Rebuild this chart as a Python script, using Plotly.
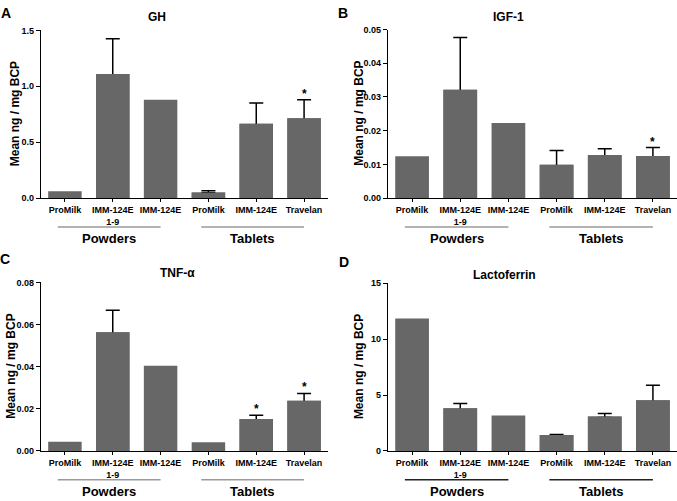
import plotly.graph_objects as go

# ---------------- data ----------------
categories = ["ProMilk", "IMM-124E<br>1-9", "IMM-124E", "ProMilk", "IMM-124E", "Travelan"]
groups = ["Powders", "Powders", "Powders", "Tablets", "Tablets", "Tablets"]

gh_mean = [0.06, 1.11, 0.88, 0.05, 0.665, 0.715]
gh_upper = [None, 1.425, None, 0.065, 0.852, 0.88]
gh_star = [False, False, False, False, False, True]

igf_mean = [0.0124, 0.0321, 0.0223, 0.0099, 0.0128, 0.0125]
igf_upper = [None, 0.0476, None, 0.0141, 0.0146, 0.0150]
igf_star = [False, False, False, False, False, True]

tnf_mean = [0.0044, 0.0563, 0.0404, 0.0041, 0.0151, 0.0238]
tnf_upper = [None, 0.0667, None, None, 0.0169, 0.0273]
tnf_star = [False, False, False, False, True, True]

lac_mean = [11.85, 3.81, 3.18, 1.42, 3.09, 4.54]
lac_upper = [None, 4.25, None, 1.47, 3.36, 5.88]
lac_star = [False, False, False, False, False, False]

gh_ticks = [0.0, 0.5, 1.0, 1.5]
igf_ticks = [0.00, 0.01, 0.02, 0.03, 0.04, 0.05]
tnf_ticks = [0.00, 0.02, 0.04, 0.06, 0.08]
lac_ticks = [0, 5, 10, 15]

titles = ["GH", "IGF-1", "TNF-α", "Lactoferrin"]
letters = ["A", "B", "C", "D"]
ytitle = "Mean ng / mg BCP"

# ---------------- layout helpers ----------------
W, H = 677, 501
FONT = "Liberation Sans"
BAR = "#676767"

def px(x):
    return x / W

def py(y):
    return 1 - y / H

panels = [
    dict(mean=gh_mean, upper=gh_upper, star=gh_star, ticks=gh_ticks, fmt="{:.1f}",
         xd=(41, 328), yd=(26, 197), title=(157, 12), letter=(6, 8), ytx=15, gline="#9a9a9a"),
    dict(mean=igf_mean, upper=igf_upper, star=igf_star, ticks=igf_ticks, fmt="{:.2f}",
         xd=(388, 677), yd=(25, 197), title=(508, 12), letter=(343, 8), ytx=359, gline="#9a9a9a"),
    dict(mean=tnf_mean, upper=tnf_upper, star=tnf_star, ticks=tnf_ticks, fmt="{:.2f}",
         xd=(41, 328), yd=(283, 455), title=(177, 273), letter=(5, 259), ytx=11, gline="#9a9a9a"),
    dict(mean=lac_mean, upper=lac_upper, star=lac_star, ticks=lac_ticks, fmt="{:g}",
         xd=(388, 677), yd=(284, 455), title=(504, 275), letter=(344, 262), ytx=359, gline="#222222"),
]

fig = go.Figure()
annotations = []
shapes = []
xpos = list(range(len(categories)))

for i, p in enumerate(panels):
    n = "" if i == 0 else str(i + 1)
    xa, ya = "x" + n, "y" + n
    mean = p["mean"]
    eidx = [k for k, u in enumerate(p["upper"]) if u is not None]
    # bars that carry error bars (upper only visible)
    fig.add_trace(go.Bar(x=[xpos[k] for k in eidx], y=[mean[k] for k in eidx],
                         xaxis=xa, yaxis=ya, width=0.7,
                         marker=dict(color=BAR, line=dict(width=0)),
                         error_y=dict(type="data", symmetric=False,
                                      array=[p["upper"][k] - mean[k] for k in eidx],
                                      arrayminus=[mean[k] * 0.03 for k in eidx],
                                      color="black", thickness=1.5, width=7),
                         showlegend=False, hoverinfo="skip"))
    # all bars on top (hides lower half of error bars)
    fig.add_trace(go.Bar(x=xpos, y=mean, xaxis=xa, yaxis=ya, width=0.7,
                         marker=dict(color=BAR, line=dict(width=0)),
                         showlegend=False, hoverinfo="y"))

    x0, x1 = p["xd"]
    ytop, ybot = p["yd"]
    fig.layout["xaxis" + n] = dict(
        domain=[px(x0), px(x1)], anchor=ya, range=[-0.5, 5.5],
        tickvals=xpos, ticktext=categories, ticks="outside", ticklen=3,
        tickwidth=1, tickcolor="black", showline=True, linecolor="black",
        linewidth=1.2, showgrid=False, zeroline=False, fixedrange=True,
        tickangle=0,
        tickfont=dict(family=FONT, size=9, color="black", weight="bold"))
    fig.layout["yaxis" + n] = dict(
        domain=[py(ybot), py(ytop)], anchor=xa,
        range=[p["ticks"][0], p["ticks"][-1]],
        tickvals=p["ticks"], ticktext=[p["fmt"].format(t) for t in p["ticks"]],
        ticks="outside", ticklen=4, tickwidth=1, tickcolor="black",
        showline=True, linecolor="black", linewidth=1.2, showgrid=False,
        zeroline=False, fixedrange=True,
        tickfont=dict(family=FONT, size=9, color="black", weight="bold"))

    # title
    annotations.append(dict(text="<b>%s</b>" % titles[i], x=px(p["title"][0]), y=py(p["title"][1]),
                            xref="paper", yref="paper", showarrow=False,
                            xanchor="center", yanchor="middle",
                            font=dict(family=FONT, size=12, color="black")))
    # panel letter
    annotations.append(dict(text="<b>%s</b>" % letters[i], x=px(p["letter"][0]), y=py(p["letter"][1]),
                            xref="paper", yref="paper", showarrow=False,
                            xanchor="center", yanchor="middle",
                            font=dict(family=FONT, size=14, color="black")))
    # y axis title
    annotations.append(dict(text="<b>%s</b>" % ytitle, x=px(p["ytx"]), y=py((ytop + ybot) / 2),
                            xref="paper", yref="paper", showarrow=False, textangle=-90,
                            xanchor="center", yanchor="middle",
                            font=dict(family=FONT, size=12, color="black")))
    # stars
    for j, s in enumerate(p["star"]):
        if s:
            top = p["upper"][j] if p["upper"][j] is not None else mean[j]
            annotations.append(dict(text="<b>*</b>", x=j, y=top, xref=xa, yref=ya,
                                    showarrow=False, xanchor="center", yanchor="bottom",
                                    yshift=-3, font=dict(family=FONT, size=12, color="black")))
    # group lines and labels
    for g in dict.fromkeys(groups):
        idx = [k for k, gg in enumerate(groups) if gg == g]
        gx0, gx1 = idx[0] - 0.15, idx[-1]
        shapes.append(dict(type="line", xref=xa, yref="paper", x0=gx0, x1=gx1,
                           y0=py(ybot + 29.5), y1=py(ybot + 29.5),
                           line=dict(color=p["gline"], width=1.5)))
        annotations.append(dict(text="<b>%s</b>" % g, x=(gx0 + gx1) / 2, y=py(ybot + 41),
                                xref=xa, yref="paper", showarrow=False,
                                xanchor="center", yanchor="middle",
                                font=dict(family=FONT, size=13, color="black")))

fig.update_layout(width=W, height=H, margin=dict(l=0, r=0, t=0, b=0),
                  paper_bgcolor="white", plot_bgcolor="white",
                  barmode="overlay", bargap=0.3,
                  annotations=annotations, shapes=shapes,
                  font=dict(family=FONT, color="black"))

fig.write_html("out.html", config={"displayModeBar": False},
               post_script="document.body.style.margin='0';document.body.style.overflow='hidden';")
